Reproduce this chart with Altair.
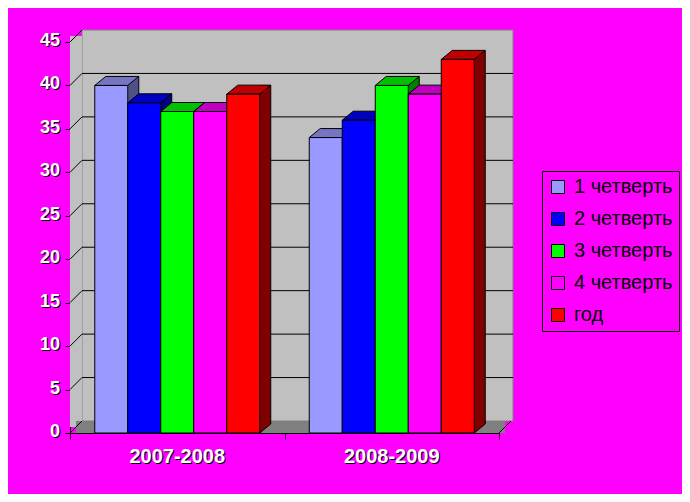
import altair as alt
import pandas as pd

categories = ["2007-2008", "2008-2009"]
series = ["1 четверть", "2 четверть", "3 четверть", "4 четверть", "год"]
values_2007_2008 = [40, 38, 37, 37, 39]
values_2008_2009 = [34, 36, 40, 39, 43]
y_ticks = [0, 5, 10, 15, 20, 25, 30, 35, 40, 45]

front_colors = ["#9999FF", "#0000FF", "#00FF00", "#FF00FF", "#FF0000"]
top_colors = ["#7575C4", "#0000C0", "#00C000", "#C000C0", "#C00000"]
side_colors = ["#505088", "#000080", "#008000", "#800080", "#800000"]

rows = []
for gi, (cat, vals) in enumerate(zip(categories, [values_2007_2008, values_2008_2009])):
    for si, (s, v) in enumerate(zip(series, vals)):
        rows.append({"cat": cat, "gi": gi, "series": s, "si": si, "value": v,
                     "top": top_colors[si], "side": side_colors[si]})
df = pd.DataFrame(rows)
ticks_df = pd.DataFrame({"t": y_ticks, "label": [str(t) for t in y_ticks]})
grid_df = pd.DataFrame({"t": y_ticks[1:-1]})
cat_df = pd.DataFrame({"cat": categories, "gi": list(range(len(categories)))})
one = pd.DataFrame({"a": [0]})

W, H = 429, 391
YMAX = 45
NCAT = len(categories)
DX, DY = 12, -12          # wall depth (px)
BWPX = 33                 # bar width (px)
BDX, BDY = 11, 9          # bar depth (px)
BW = BWPX / (W / NCAT)    # bar width as fraction of a category band
PAD = (1 - len(series) * BW) / 2
FONT = "Liberation Sans"

# custom symbol paths in pixel units (size=4 -> scale factor 1)
TOP_SHAPE = f"M0,0 L{BWPX},0 L{BWPX + BDX},{-BDY} L{BDX},{-BDY} Z"
TRI_SHAPE = f"M0,0 L{BDX},{-BDY} L0,{-BDY} Z"

yscale = alt.Scale(domain=[0, YMAX], nice=False, zero=True)
yaxis = alt.Axis(values=y_ticks, labels=False, ticks=True, tickSize=5, tickColor="black",
                 domainColor="black", grid=False, title=None)
xscale = alt.Scale(domain=[0, NCAT], nice=False, zero=True)
xaxis = alt.Axis(values=list(range(NCAT + 1)), labels=False, ticks=True, tickSize=6,
                 tickColor="black", domainColor="black", title=None, grid=False)


def X(f):
    return alt.X(f, scale=xscale, axis=xaxis)


def Y(f):
    return alt.Y(f, scale=yscale, axis=yaxis)


back_wall = alt.Chart(one).mark_rect(fill="#C0C0C0", stroke="#808080", strokeWidth=1,
                                     yOffset=DY, y2Offset=DY).encode(
    x=alt.value(DX), x2=alt.value(W + DX + 2),
    y=alt.datum(YMAX, scale=yscale, axis=yaxis), y2=alt.datum(0))

grid = alt.Chart(grid_df).mark_rule(color="black", strokeWidth=1, yOffset=DY).encode(
    x=alt.value(DX), x2=alt.value(W + DX + 2), y=Y("t:Q"))

left_wall = alt.Chart(one).mark_rect(fill="#C0C0C0", yOffset=DY / 2, y2Offset=DY / 2).encode(
    x=alt.value(0), x2=alt.value(DX),
    y=alt.datum(YMAX, scale=yscale, axis=yaxis), y2=alt.datum(0))

floor = alt.Chart(one).mark_rect(fill="#808080", yOffset=DY, y2Offset=0).encode(
    x=alt.value(DX / 2), x2=alt.value(W + DX / 2),
    y=alt.datum(0, scale=yscale, axis=yaxis), y2=alt.datum(0))

diag = alt.Chart(ticks_df).mark_rule(color="black", strokeWidth=1, y2Offset=DY).encode(
    x=alt.value(0), x2=alt.value(DX), y=Y("t:Q"), y2=alt.Y2("t:Q"))

right_diag = alt.Chart(one).mark_rule(color="black", strokeWidth=1, y2Offset=DY).encode(
    x=alt.value(W), x2=alt.value(W + DX),
    y=alt.datum(0, scale=yscale, axis=yaxis), y2=alt.datum(0))

bars = alt.Chart(df).transform_calculate(
    L=f"datum.gi + {PAD} + datum.si * {BW}",
).transform_calculate(
    R=f"datum.L + {BW}",
)

side = bars.mark_rect(strokeWidth=0, x2Offset=BDX, yOffset=-BDY, y2Offset=-BDY).encode(
    x=X("R:Q"), x2=alt.X2("R:Q"), y=Y("value:Q"), y2=alt.datum(0),
    fill=alt.Fill("side:N", scale=None, legend=None))

side_tri = bars.mark_point(shape=TRI_SHAPE, size=4, filled=True, opacity=1,
                           strokeWidth=0).encode(
    x=X("R:Q"), y=alt.Y("zero:Q", scale=yscale, axis=yaxis),
    fill=alt.Fill("side:N", scale=None, legend=None)).transform_calculate(zero="0")

side_edge = bars.mark_rule(color="black", strokeWidth=1, xOffset=BDX,
                           yOffset=-BDY, y2Offset=-BDY).encode(
    x=X("R:Q"), y=Y("value:Q"), y2=alt.datum(0))

side_bottom = bars.mark_rule(color="black", strokeWidth=1, x2Offset=BDX,
                             y2Offset=-BDY).encode(
    x=X("R:Q"), x2=alt.X2("R:Q"),
    y=alt.datum(0, scale=yscale, axis=yaxis), y2=alt.datum(0))

top = bars.mark_point(shape=TOP_SHAPE, size=4, filled=True, opacity=1,
                      stroke="black", strokeWidth=1).encode(
    x=X("L:Q"), y=Y("value:Q"),
    fill=alt.Fill("top:N", scale=None, legend=None))

front = bars.mark_rect(stroke="black", strokeWidth=1).encode(
    x=X("L:Q"), x2=alt.X2("R:Q"),
    y=Y("value:Q"), y2=alt.datum(0),
    color=alt.Color("series:N", sort=series,
                    scale=alt.Scale(domain=series, range=front_colors),
                    legend=alt.Legend(title=None, orient="none", legendX=472, legendY=129,
                                      symbolType="square", symbolSize=169,
                                      symbolStrokeColor="black", symbolStrokeWidth=1,
                                      labelFontSize=20, labelFont=FONT, labelColor="black",
                                      labelOffset=6, rowPadding=12, padding=6,
                                      strokeColor="black", fillColor="#FF00FF")))

ylab_shadow = alt.Chart(ticks_df).mark_text(align="right", baseline="middle", fontSize=18,
                                            fontWeight="bold", font=FONT, color="black",
                                            dx=1, dy=0).encode(
    x=alt.value(-10), y=Y("t:Q"), text="label:N")
ylab = alt.Chart(ticks_df).mark_text(align="right", baseline="middle", fontSize=18,
                                     fontWeight="bold", font=FONT, color="white",
                                     dy=-1).encode(
    x=alt.value(-10), y=Y("t:Q"), text="label:N")

cats = alt.Chart(cat_df).transform_calculate(cx="datum.gi + 0.5")
xlab_shadow = cats.mark_text(align="center", baseline="middle", fontSize=20,
                             fontWeight="bold", font=FONT, color="black",
                             dx=1, dy=1).encode(
    x=X("cx:Q"), y=alt.value(H + 24), text="cat:N")
xlab = cats.mark_text(align="center", baseline="middle", fontSize=20,
                      fontWeight="bold", font=FONT, color="white").encode(
    x=X("cx:Q"), y=alt.value(H + 24), text="cat:N")

chart = alt.layer(back_wall, grid, left_wall, floor, diag, right_diag,
                  side, side_tri, side_edge, side_bottom, top, front,
                  ylab_shadow, ylab, xlab_shadow, xlab).properties(
    width=W, height=H,
    padding={"left": 62, "top": 34, "right": 183, "bottom": 61},
    autosize=alt.AutoSizeParams(type="none"),
    background="#FF00FF",
).configure_view(stroke=None)

chart.save("out.html", embed_options={"renderer": "svg", "actions": False})
